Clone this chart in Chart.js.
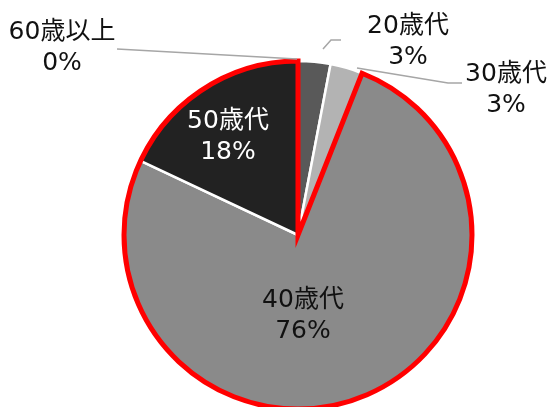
<!DOCTYPE html>
<html>
<head>
<meta charset="utf-8">
<script src="https://cdn.jsdelivr.net/npm/chart.js@4.4.0/dist/chart.umd.min.js"></script>
<style>
  html, body { margin: 0; padding: 0; background: #fff; }
</style>
</head>
<body>
<canvas id="pie" width="555" height="407"></canvas>
<script>
// data
let categories = ["20歳代", "30歳代", "40歳代", "50歳代", "60歳以上"];
let percents = [3, 3, 76, 18, 0];
let sliceColours = ["#595959", "#b3b3b3", "#8a8a8a", "#222222", "#f0f0f0"];
let labelColours = ["#111", "#111", "#111", "#fff", "#111"];

// label block centres, relative to the pie centre (px)
let labelOffsets = [[110, -193], [208, -145], [5, 81], [-70, -98], [-236, -187]];
// leader lines, relative to the pie centre (px)
let leaders = [
    [[25, -186], [33, -195], [43, -195]],
    [[59, -167], [150, -152], [164, -152]],
    null,
    null,
    [[-181, -186], [-1, -176]]
];

// Meiryo's latin is Verdana-like, so DejaVu Sans for digits, Noto CJK for kanji
let fontFamily = '"DejaVu Sans", "Noto Sans CJK JP", sans-serif';

let highlightPlugin = {
    id: 'highlight',
    afterDatasetsDraw(chart) {
        let ctx = chart.ctx;
        let meta = chart.getDatasetMeta(0);
        let a40 = meta.data[2];
        let a50 = meta.data[3];
        let cx = a40.x, cy = a40.y, r = a40.outerRadius;

        // red outline round 40歳代 + 50歳代
        ctx.save();
        ctx.beginPath();
        ctx.moveTo(cx, cy);
        ctx.arc(cx, cy, r, a40.startAngle, a50.endAngle);
        ctx.closePath();
        ctx.strokeStyle = "#ff0000";
        ctx.lineWidth = 5;
        ctx.lineJoin = "miter";
        ctx.stroke();
        ctx.restore();

        // leader lines
        ctx.save();
        ctx.strokeStyle = "#a6a6a6";
        ctx.lineWidth = 1.5;
        leaders.forEach((pts) => {
            if (!pts) return;
            ctx.beginPath();
            pts.forEach((p, i) => {
                if (i == 0) ctx.moveTo(cx + p[0], cy + p[1]);
                else ctx.lineTo(cx + p[0], cy + p[1]);
            });
            ctx.stroke();
        });
        ctx.restore();

        // data labels
        ctx.save();
        ctx.font = "25px " + fontFamily;
        ctx.textAlign = "center";
        ctx.textBaseline = "middle";
        let lineGap = 31;
        categories.forEach((cat, i) => {
            let lx = cx + labelOffsets[i][0];
            let ly = cy + labelOffsets[i][1];
            ctx.fillStyle = labelColours[i];
            ctx.fillText(cat, lx, ly - lineGap / 2);
            ctx.fillText(percents[i] + "%", lx, ly + lineGap / 2);
        });
        ctx.restore();
    }
};

let pieChart = new Chart(document.getElementById('pie').getContext('2d'), {
    type: 'pie',
    data: {
        labels: categories,
        datasets: [{
            data: percents,
            backgroundColor: sliceColours,
            borderColor: "#ffffff",
            borderWidth: 2.5
        }]
    },
    options: {
        responsive: false,
        animation: false,
        radius: 174,
        layout: { padding: { left: 41, right: 0, top: 63, bottom: 0 } },
        plugins: {
            legend: { display: false },
            tooltip: { enabled: false }
        }
    },
    plugins: [highlightPlugin]
});
</script>
</body>
</html>
